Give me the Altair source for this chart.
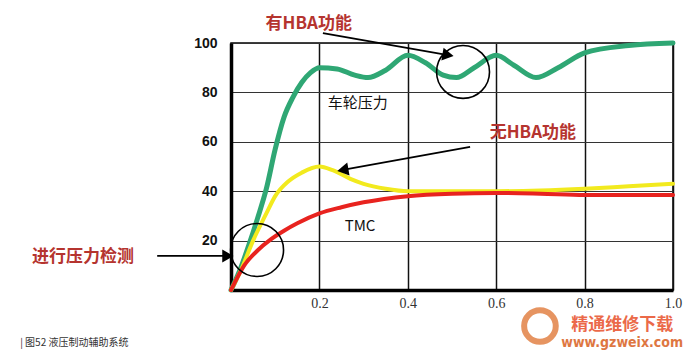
import altair as alt
import pandas as pd

# ---- data ----
green_x = [0.0, 0.02, 0.04, 0.06, 0.08, 0.10, 0.12, 0.14, 0.16, 0.18, 0.20, 0.24, 0.28, 0.31, 0.35, 0.40,
           0.44, 0.48, 0.51, 0.55, 0.60, 0.64, 0.69, 0.74, 0.80, 0.90, 1.00]
green_y = [0, 8, 18, 29, 41, 57, 70, 78, 84, 88, 90, 89.5, 87, 86, 89, 95,
           92, 87, 86, 90, 95, 91, 86, 90, 96, 99, 100]

yellow_x = [0.0, 0.02, 0.05, 0.08, 0.10, 0.13, 0.16, 0.20, 0.23, 0.27, 0.30, 0.35, 0.40, 0.50, 0.60,
            0.70, 0.80, 0.90, 1.00]
yellow_y = [0, 7, 20, 31, 38, 44, 47.5, 50, 48.5, 45, 43, 41, 40, 40, 40, 40.3, 41, 42, 43]

red_x = [0.0, 0.03, 0.06, 0.09, 0.12, 0.15, 0.20, 0.25, 0.30, 0.40, 0.50, 0.60, 0.70, 0.80, 0.90, 1.00]
red_y = [0, 10, 16, 20.5, 24, 27, 31, 33.5, 35.5, 38, 39, 39.3, 39, 38.5, 38.5, 38.5]

series_names = ["有HBA", "无HBA", "TMC"]
series_colors = ["#2fa774", "#f2ea1e", "#e8231f"]

x_ticks = [0.0, 0.2, 0.4, 0.6, 0.8, 1.0]
y_ticks = [0, 10, 20, 30, 40, 50, 60, 70, 80, 90, 100]

# annotations (data coordinates)
ann_text = ["有HBA功能", "无HBA功能", "进行压力检测"]
ann_x = [0.176, 0.683, -0.335]
ann_y = [107.7, 63.6, 13.4]

label_text = ["车轮压力", "TMC"]
label_x = [0.287, 0.292]
label_y = [75.7, 25.9]

arrow_x1 = [0.208, 0.541, -0.167]
arrow_y1 = [104.0, 57.9, 13.8]
arrow_x2 = [0.491, 0.253, -0.007]
arrow_y2 = [95.1, 48.6, 13.8]
arrow_shape = ["triangle-right", "triangle-left", "triangle-right"]
arrow_angle = [10, 350, 0]

circle_x = [0.525, 0.059]
circle_y = [88.3, 16.2]

caption = "|  图52  液压制动辅助系统"
wm_title = "精通维修下载"
wm_url = "www.gzweix.com"

# ---- build tables ----
rows = []
for name, xs_, ys_ in zip(series_names, [green_x, yellow_x, red_x], [green_y, yellow_y, red_y]):
    for i, (a, b) in enumerate(zip(xs_, ys_)):
        rows.append({"s": name, "x": a, "y": b, "o": i})
lines_df = pd.DataFrame(rows)

xs = alt.Scale(domain=[0, 1], nice=False)
ys = alt.Scale(domain=[0, 100], nice=False)

base_axes = alt.Chart(pd.DataFrame({"x": [0], "y": [0]})).mark_point(opacity=0).encode(
    x=alt.X("x:Q", scale=xs, title=None,
            axis=alt.Axis(values=x_ticks, grid=True, gridColor="#111", gridWidth=1.5,
                          ticks=False, domainColor="#000", domainWidth=3.5,
                          labelExpr="datum.value == 0 ? '' : format(datum.value, '.1f')",
                          labelFont="Liberation Serif", labelFontSize=14, labelColor="#333",
                          labelPadding=6, labelFlush=False)),
    y=alt.Y("y:Q", scale=ys, title=None,
            axis=alt.Axis(values=y_ticks, grid=True, gridColor="#333", gridWidth=1.2,
                          ticks=False, domainColor="#000", domainWidth=3.5,
                          labelExpr="(datum.value % 20 == 0 && datum.value > 0) ? datum.value : ''",
                          labelFont="Liberation Sans", labelFontWeight="bold", labelFontSize=14,
                          labelColor="#111", labelPadding=14)),
)

line_layers = []
widths = [5, 4, 4]
for name, col, w in zip(series_names, series_colors, widths):
    line_layers.append(
        alt.Chart(lines_df[lines_df.s == name]).mark_line(
            color=col, strokeWidth=w, interpolate="monotone", strokeCap="round"
        ).encode(x=alt.X("x:Q", scale=xs), y=alt.Y("y:Q", scale=ys), order="o:Q")
    )

arrows_df = pd.DataFrame({"x1": arrow_x1, "y1": arrow_y1, "x2": arrow_x2, "y2": arrow_y2,
                          "shape": arrow_shape, "angle": arrow_angle})
arrow_rules = alt.Chart(arrows_df).mark_rule(color="#000", strokeWidth=1.8).encode(
    x=alt.X("x1:Q", scale=xs), y=alt.Y("y1:Q", scale=ys), x2="x2:Q", y2="y2:Q")
arrow_heads = alt.Chart(arrows_df).mark_point(filled=True, color="#000", size=170, opacity=1).encode(
    x=alt.X("x2:Q", scale=xs), y=alt.Y("y2:Q", scale=ys),
    shape=alt.Shape("shape:N", scale=None), angle=alt.Angle("angle:Q", scale=None))

circles_df = pd.DataFrame({"x": circle_x, "y": circle_y})
circles = alt.Chart(circles_df).mark_point(shape="circle", filled=False, color="#000",
                                           strokeWidth=1.6, size=2800, opacity=1).encode(
    x=alt.X("x:Q", scale=xs), y=alt.Y("y:Q", scale=ys))

ann_df = pd.DataFrame({"t": ann_text, "x": ann_x, "y": ann_y})
ann = alt.Chart(ann_df).mark_text(font="Noto Sans CJK SC", fontSize=17, fontWeight="bold",
                                  color="#b5342f", align="center", baseline="middle").encode(
    x=alt.X("x:Q", scale=xs), y=alt.Y("y:Q", scale=ys), text="t:N")

lab_df = pd.DataFrame({"t": label_text, "x": label_x, "y": label_y})
labs = alt.Chart(lab_df).mark_text(font="Noto Sans CJK SC", fontSize=15, color="#111",
                                   align="center", baseline="middle").encode(
    x=alt.X("x:Q", scale=xs), y=alt.Y("y:Q", scale=ys), text="t:N")

extra_df = pd.DataFrame({"t": [caption], "x": [-0.477], "y": [-21.5]})
cap = alt.Chart(extra_df).mark_text(font="Noto Sans CJK SC", fontSize=10, color="#333",
                                    align="left", baseline="middle").encode(
    x=alt.X("x:Q", scale=xs), y=alt.Y("y:Q", scale=ys), text="t:N")

wm_df = pd.DataFrame({"t": [wm_title, wm_url], "x": [0.885, 0.885], "y": [-14.2, -21.3]})
wm = alt.Chart(wm_df.iloc[[0]]).mark_text(font="Noto Sans CJK SC", fontSize=17, fontWeight="bold",
                                          color="#e8502a", align="center", baseline="middle",
                                          opacity=0.85).encode(
    x=alt.X("x:Q", scale=xs), y=alt.Y("y:Q", scale=ys), text="t:N")
wm2 = alt.Chart(wm_df.iloc[[1]]).mark_text(font="DejaVu Sans Condensed", fontSize=14, fontWeight="bold",
                                           color="#d9601e", align="center", baseline="middle",
                                           opacity=0.85).encode(
    x=alt.X("x:Q", scale=xs), y=alt.Y("y:Q", scale=ys), text="t:N")
logo = alt.Chart(pd.DataFrame({"x": [0.699], "y": [-14.6]})).mark_point(
    shape="circle", filled=False, color="#e07a3a", strokeWidth=6, size=1000, opacity=0.8).encode(
    x=alt.X("x:Q", scale=xs), y=alt.Y("y:Q", scale=ys))

chart = alt.layer(base_axes, *line_layers, arrow_rules, arrow_heads, circles, ann, labs, cap,
                  wm, wm2, logo
).properties(
    width=442, height=247,
    autosize=alt.AutoSizeParams(type="none"),
    padding={"left": 231, "top": 43, "right": 12, "bottom": 65},
    background="white",
).configure_view(stroke="#000", strokeWidth=1.5)

chart.save("out.html", embed_options={"renderer": "svg", "actions": False})
